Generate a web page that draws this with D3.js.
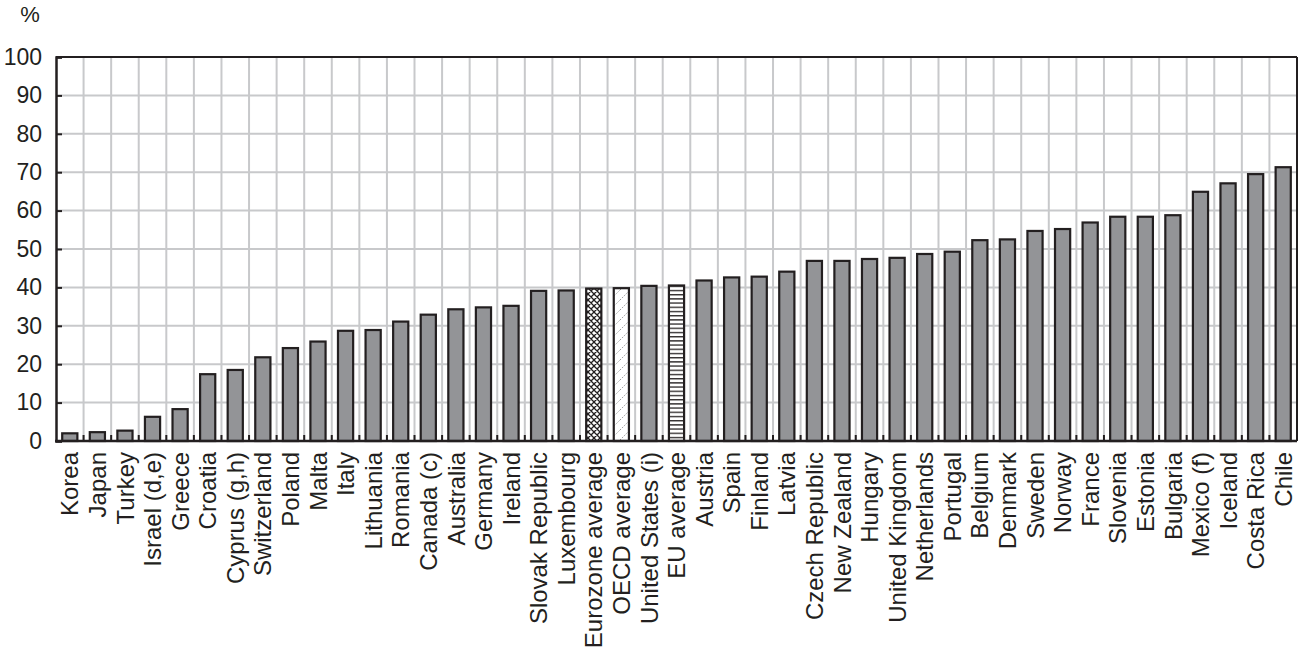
<!DOCTYPE html>
<html>
<head>
<meta charset="utf-8">
<script src="https://cdn.jsdelivr.net/npm/d3@7"></script>
<style>
  html, body { margin: 0; padding: 0; background: #fff; }
  svg { display: block; }
  text { font-family: "Liberation Sans", Arial, Helvetica, sans-serif; fill: #231f20; }
</style>
</head>
<body>
<svg id="chart" width="1299" height="659"></svg>
<script>
const categories = ["Korea","Japan","Turkey","Israel (d,e)","Greece","Croatia","Cyprus (g,h)","Switzerland","Poland","Malta","Italy","Lithuania","Romania","Canada (c)","Australia","Germany","Ireland","Slovak Republic","Luxembourg","Eurozone average","OECD average","United States (i)","EU average","Austria","Spain","Finland","Latvia","Czech Republic","New Zealand","Hungary","United Kingdom","Netherlands","Portugal","Belgium","Denmark","Sweden","Norway","France","Slovenia","Estonia","Bulgaria","Mexico (f)","Iceland","Costa Rica","Chile"];
const values = [2.0,2.3,2.7,6.3,8.3,17.4,18.5,21.8,24.2,25.9,28.7,28.9,31.1,32.9,34.3,34.8,35.2,39.1,39.2,39.7,39.8,40.4,40.5,41.8,42.6,42.8,44.1,46.9,46.9,47.4,47.7,48.7,49.3,52.3,52.5,54.7,55.2,56.9,58.4,58.4,58.8,64.9,67.1,69.5,71.3];
const patterned = {"Eurozone average":"url(#pCross)","OECD average":"url(#pDiag)","EU average":"url(#pHoriz)"};
const yTicks = [0,10,20,30,40,50,60,70,80,90,100];
const yUnit = "%";

const svg = d3.select("#chart");
const L = 56, R = 1297, T = 57, B = 441;

const defs = svg.append("defs");
// crosshatch
const pc = defs.append("pattern").attr("id","pCross").attr("patternUnits","userSpaceOnUse")
  .attr("width",6).attr("height",6);
pc.append("rect").attr("width",6).attr("height",6).attr("fill","#fff");
pc.append("path").attr("d","M0,0L6,6M6,0L0,6M-1,5L1,7M5,-1L7,1M-1,1L1,-1M5,7L7,5").attr("stroke","#231f20").attr("stroke-width",1.3);
// sparse diagonal
const pd = defs.append("pattern").attr("id","pDiag").attr("patternUnits","userSpaceOnUse")
  .attr("width",10).attr("height",10);
pd.append("rect").attr("width",10).attr("height",10).attr("fill","#fff");
pd.append("path").attr("d","M0,10L10,0").attr("stroke","#888").attr("stroke-width",0.9).attr("stroke-dasharray","1.5,1.5");
// horizontal lines
const ph = defs.append("pattern").attr("id","pHoriz").attr("patternUnits","userSpaceOnUse")
  .attr("width",8).attr("height",4.2);
ph.append("rect").attr("width",8).attr("height",4.2).attr("fill","#fff");
ph.append("line").attr("x1",0).attr("x2",8).attr("y1",0.7).attr("y2",0.7).attr("stroke","#231f20").attr("stroke-width",1.3);

const x = d3.scaleBand().domain(categories).range([L, R]).paddingInner(0.45).paddingOuter(0.225);
const y = d3.scaleLinear().domain([0, 100]).range([B, T]);
const step = x.step();

// horizontal gridlines
svg.append("g").selectAll("line").data(yTicks.filter(d => d > 0 && d < 100)).join("line")
  .attr("x1", L).attr("x2", R).attr("y1", d => y(d)).attr("y2", d => y(d))
  .attr("stroke", "#c8c9cb").attr("stroke-width", 2);
// vertical gridlines at band boundaries
const bounds = d3.range(1, categories.length).map(i => L + i*step);
svg.append("g").selectAll("line").data(bounds).join("line")
  .attr("x1", d => d).attr("x2", d => d).attr("y1", T).attr("y2", B)
  .attr("stroke", "#c8c9cb").attr("stroke-width", 2);

// bars
svg.append("g").selectAll("rect").data(categories).join("rect")
  .attr("x", d => x(d)).attr("width", x.bandwidth())
  .attr("y", (d,i) => y(values[i])).attr("height", (d,i) => B - y(values[i]))
  .attr("fill", d => patterned[d] || "#939497")
  .attr("stroke", "#231f20").attr("stroke-width", 2.2);

// bottom tick marks between bars
svg.append("g").selectAll("line").data(bounds).join("line")
  .attr("x1", d => d).attr("x2", d => d).attr("y1", B).attr("y2", B - 6)
  .attr("stroke", "#231f20").attr("stroke-width", 2);

// frame
svg.append("line").attr("x1", L).attr("x2", R).attr("y1", T).attr("y2", T).attr("stroke","#231f20").attr("stroke-width",2);
svg.append("line").attr("x1", R).attr("x2", R).attr("y1", T).attr("y2", B).attr("stroke","#231f20").attr("stroke-width",2);

// y axis
const yAxis = d3.axisLeft(y).tickValues(yTicks).tickSize(-6).tickPadding(14).tickFormat(d3.format("d"));
const gy = svg.append("g").attr("transform", `translate(${L},0)`).call(yAxis);
gy.select(".domain").attr("stroke","#231f20").attr("stroke-width",2.5);
gy.selectAll(".tick line").attr("stroke","#231f20").attr("stroke-width",2);
gy.selectAll(".tick text").attr("font-size", 23).attr("font-family", "Liberation Sans, Arial, sans-serif").attr("fill","#231f20");

// x axis
const xAxis = d3.axisBottom(x).tickSize(0).tickPadding(0);
const gx = svg.append("g").attr("transform", `translate(0,${B})`).call(xAxis);
gx.select(".domain").attr("stroke","#231f20").attr("stroke-width",2.5).attr("d", `M${L-1},0H${R}`);
gx.selectAll(".tick text")
  .attr("font-size", 24).attr("font-family", "Liberation Sans, Arial, sans-serif").attr("fill","#231f20")
  .attr("text-anchor", "end")
  .attr("transform", "rotate(-90)")
  .attr("x", -11).attr("y", 0).attr("dy", "0.36em");

// unit label
svg.append("text").attr("x", 30).attr("y", 22).attr("text-anchor","middle").attr("font-size", 22).text(yUnit);
</script>
</body>
</html>
